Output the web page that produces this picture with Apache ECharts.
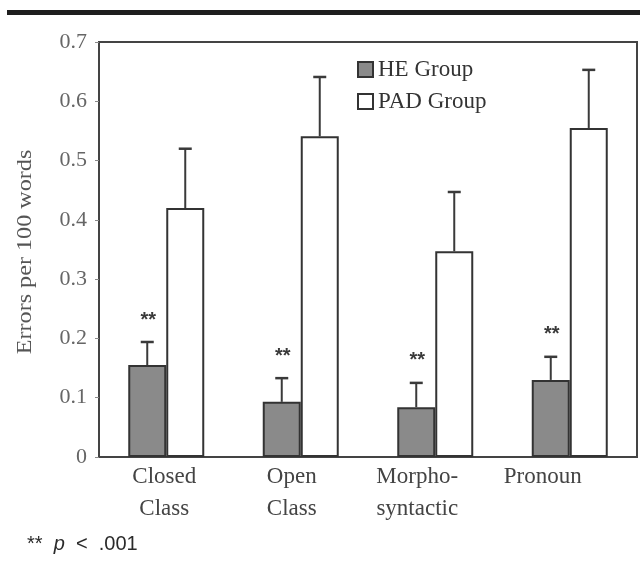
<!DOCTYPE html>
<html><head><meta charset="utf-8">
<script src="https://cdn.jsdelivr.net/npm/echarts@6/dist/echarts.min.js"></script>
<style>html,body{margin:0;padding:0;background:#fff}#c{width:640px;height:571px}</style>
</head><body><div id="c"></div>
<script>
const categories = ['Closed\nClass', 'Open\nClass', 'Morpho-\nsyntactic', 'Pronoun'];
const heValues = [0.155, 0.093, 0.084, 0.130];
const heErrTop = [0.194, 0.133, 0.125, 0.169];
const padValues = [0.420, 0.541, 0.347, 0.555];
const padErrTop = [0.520, 0.641, 0.447, 0.653];
const heSig = ['**', '**', '**', '**'];
const yTicks = [0, 0.1, 0.2, 0.3, 0.4, 0.5, 0.6, 0.7];

const BAR_W = 38;
const serif = '"Liberation Serif", "DejaVu Serif", serif';
const sans = '"Liberation Sans", Arial, sans-serif';
const labelShift = [4, 18, 36, 54];

function errRender(offset, showSig) {
  return function (params, api) {
    const idx = api.value(0);
    const top = api.coord([idx, api.value(1)]);
    const base = api.coord([idx, api.value(2)]);
    const x = top[0] + offset;
    const children = [
      { type: 'line', shape: { x1: x, y1: base[1], x2: x, y2: top[1] }, style: { stroke: '#3a3a3a', lineWidth: 2 } },
      { type: 'line', shape: { x1: x - 6.5, y1: top[1], x2: x + 6.5, y2: top[1] }, style: { stroke: '#3a3a3a', lineWidth: 2.5 } }
    ];
    if (showSig) {
      children.push({ type: 'text', x: x + 1, y: top[1] - 22, style: { text: heSig[idx], fill: '#3a3a3a', font: 'bold 20px ' + sans, align: 'center', verticalAlign: 'middle' } });
    }
    return { type: 'group', children: children };
  };
}

const rich = {};
labelShift.forEach((s, i) => {
  rich['c' + i] = { fontFamily: serif, fontSize: 23, color: '#444', lineHeight: 32, padding: [0, s, 0, 0] };
});

const chart = echarts.init(document.getElementById('c'));
chart.setOption({
  animation: false,
  backgroundColor: '#fff',
  grid: { left: 99, right: 3, top: 42, bottom: 114, show: true, borderColor: '#444', borderWidth: 2, backgroundColor: 'transparent' },
  legend: {
    orient: 'vertical', left: 357, top: 58, padding: 0, itemWidth: 15, itemHeight: 15, itemGap: 9,
    icon: 'rect',
    textStyle: { fontFamily: serif, fontSize: 23, color: '#333', padding: [0, 0, 0, 0] },
    data: ['HE Group', 'PAD Group']
  },
  xAxis: {
    type: 'category', data: categories,
    axisLine: { lineStyle: { color: '#444', width: 2 } },
    axisTick: { show: false },
    axisLabel: { margin: 4, interval: 0,
      formatter: (v, i) => v.split('\n').map(t => '{c' + i + '|' + t + '}').join('\n'),
      rich: rich }
  },
  yAxis: {
    type: 'value', min: 0, max: 0.7, interval: 0.1,
    axisLine: { show: true, lineStyle: { color: '#444', width: 2 } },
    axisTick: { show: true, inside: false, length: 4, lineStyle: { color: '#888' } },
    splitLine: { show: false },
    axisLabel: { fontFamily: serif, fontSize: 22, color: '#666', margin: 12,
      formatter: v => (v === 0 ? '0' : v.toFixed(1)) }
  },
  series: [
    { name: 'HE Group', type: 'bar', data: heValues, barWidth: BAR_W, barGap: '0%',
      itemStyle: { color: '#8a8a8a', borderColor: '#333', borderWidth: 2 } },
    { name: 'PAD Group', type: 'bar', data: padValues, barWidth: BAR_W, barGap: '0%',
      itemStyle: { color: '#fff', borderColor: '#333', borderWidth: 2 } },
    { type: 'custom', renderItem: errRender(-BAR_W / 2, true), z: 5,
      data: heErrTop.map((v, i) => [i, v, heValues[i]]), encode: { x: 0, y: 1 } },
    { type: 'custom', renderItem: errRender(BAR_W / 2, false), z: 5,
      data: padErrTop.map((v, i) => [i, v, padValues[i]]), encode: { x: 0, y: 1 } }
  ],
  graphic: [
    { type: 'rect', shape: { x: 7, y: 10, width: 633, height: 5 }, style: { fill: '#1e1e1e' } },
    { type: 'text', x: 25, y: 252, rotation: Math.PI / 2, scaleX: 1.15,
      style: { text: 'Errors per 100 words', font: '21px ' + serif, fill: '#555', align: 'center', verticalAlign: 'middle' } },
    { type: 'text', left: 27, top: 534,
      style: { text: '{a|**  }{b|p}{a|  <  .001}',
        rich: { a: { fontFamily: sans, fontSize: 20, fill: '#2a2a2a' }, b: { fontFamily: sans, fontSize: 20, fontStyle: 'italic', fill: '#2a2a2a' } } } }
  ]
});
</script></body></html>
